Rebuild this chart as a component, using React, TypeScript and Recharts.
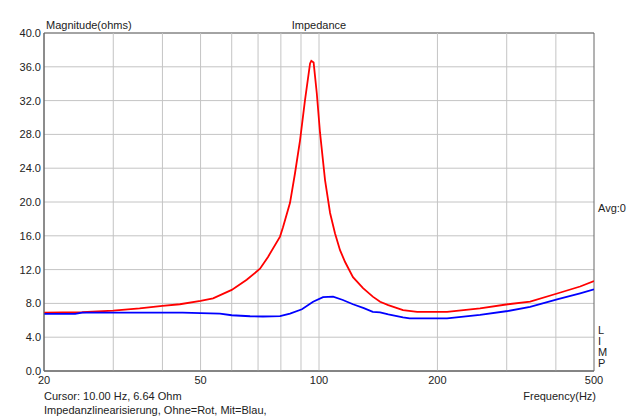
import React from "react";
import { LineChart, Line, XAxis, YAxis, CartesianGrid, ReferenceLine, ReferenceArea } from "recharts";

// Red curve: without linearisation (Ohne = Rot)
const redFreq = [20, 25, 30, 35, 40, 44.3, 50, 53.8, 60, 65.5, 70.8, 74.2, 79.6, 81, 84.4, 86.9, 89.5, 92.1, 94.9, 95.6, 96.9, 98.7, 100.6, 103.6, 106.7, 109.8, 113.1, 116.5, 122, 129.4, 137, 143, 150, 163.5, 177.6, 211.6, 256.6, 302, 344, 405, 461, 500];
const redOhm = [6.9, 6.95, 7.14, 7.4, 7.7, 7.9, 8.3, 8.6, 9.6, 10.8, 12.1, 13.5, 15.9, 17.0, 19.9, 23.4, 27.3, 32.0, 36.4, 36.7, 36.5, 32.9, 28.2, 22.6, 18.7, 16.3, 14.3, 12.9, 11.1, 9.8, 8.8, 8.2, 7.8, 7.2, 7.0, 7.0, 7.4, 7.9, 8.2, 9.2, 10.0, 10.65];

// Blue curve: with linearisation (Mit = Blau)
const blueFreq = [20, 24, 25, 30, 40, 45, 50, 56, 60, 66.8, 72, 79.6, 84.4, 90.5, 96.6, 102.4, 108.6, 115, 122, 130, 137, 143, 150, 163.5, 170, 211.6, 256.6, 302, 344, 405, 461, 500];
const blueOhm = [6.75, 6.75, 6.9, 6.9, 6.9, 6.9, 6.85, 6.8, 6.6, 6.48, 6.45, 6.5, 6.8, 7.3, 8.2, 8.75, 8.8, 8.4, 7.9, 7.45, 7.0, 6.93, 6.7, 6.35, 6.23, 6.23, 6.63, 7.1, 7.6, 8.5, 9.2, 9.67];

const xTicks = [20, 50, 100, 200, 500];
const gridFreqs = [30, 40, 50, 60, 70, 80, 90, 100, 200, 300, 400];
const yTicks = [0, 4, 8, 12, 16, 20, 24, 28, 32, 36, 40];

const redData = redFreq.map((f, i) => ({ f, v: redOhm[i] }));
const blueData = blueFreq.map((f, i) => ({ f, v: blueOhm[i] }));

const FONT = "'Liberation Sans', Arial, sans-serif";
const TXT = "#222";

export default function App() {
  return (
    <div style={{ position: "absolute", left: 0, top: 0, width: 640, height: 418, background: "#fff" }}>
      <LineChart width={640} height={418} margin={{ top: 33, right: 46, bottom: 0, left: 0 }}>
        <CartesianGrid vertical={false} stroke="#c4c4c4" strokeWidth={1} />
        {gridFreqs.map((g) => (
          <ReferenceLine key={g} x={g} stroke="#c4c4c4" strokeWidth={1} />
        ))}
        <XAxis
          type="number"
          dataKey="f"
          scale="log"
          domain={[20, 500]}
          ticks={xTicks}
          allowDataOverflow
          height={47}
          axisLine={{ stroke: "#666" }}
          tickLine={false}
          tickSize={4}
          tickMargin={1}
          tick={{ fontSize: 11, fontFamily: FONT, fill: TXT }}
        />
        <YAxis
          type="number"
          domain={[0, 40]}
          ticks={yTicks}
          width={44}
          axisLine={{ stroke: "#666" }}
          tickLine={false}
          tickSize={2}
          tickMargin={1}
          tickFormatter={(v: number) => v.toFixed(1)}
          tick={{ fontSize: 11, fontFamily: FONT, fill: TXT }}
        />
        <ReferenceArea x1={20} x2={500} y1={0} y2={40} fill="none" stroke="#666" strokeWidth={1} />
        <Line data={redData} dataKey="v" type="linear" stroke="#ff0000" strokeWidth={1.8} dot={false} isAnimationActive={false} />
        <Line data={blueData} dataKey="v" type="linear" stroke="#0000ff" strokeWidth={1.8} dot={false} isAnimationActive={false} />
      </LineChart>
      <svg width={640} height={418} style={{ position: "absolute", left: 0, top: 0, pointerEvents: "none" }}>
        <g fontFamily={FONT} fontSize={11} fill={TXT}>
          <text x={46} y={29}>Magnitude(ohms)</text>
          <text x={319} y={29} textAnchor="middle">Impedance</text>
          <text x={598} y={212}>Avg:0</text>
          <text x={598} y={334}>L</text>
          <text x={598} y={345}>I</text>
          <text x={598} y={356}>M</text>
          <text x={598} y={367}>P</text>
          <text x={44} y={400}>Cursor: 10.00 Hz, 6.64 Ohm</text>
          <text x={596} y={400} textAnchor="end">Frequency(Hz)</text>
          <text x={44} y={414}>Impedanzlinearisierung, Ohne=Rot, Mit=Blau,</text>
        </g>
      </svg>
    </div>
  );
}
